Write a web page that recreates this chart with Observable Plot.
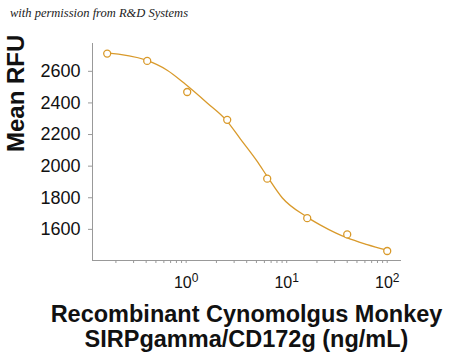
<!DOCTYPE html>
<html>
<head>
<meta charset="utf-8">
<script src="https://cdn.jsdelivr.net/npm/d3@7"></script>
<script src="https://cdn.jsdelivr.net/npm/@observablehq/plot@0.6"></script>
<style>
  html, body { margin: 0; padding: 0; background: #fff; }
  #wrap { position: relative; width: 450px; height: 358px; font-family: "Liberation Sans", Arial, sans-serif; }
  #credit { position: absolute; left: 10px; top: 6px; font-family: "Liberation Serif", serif; font-style: italic; font-size: 12.5px; color: #222; white-space: nowrap; }
  #xtitle { padding-left: 43px; margin-top: 10px; text-align: center; font-weight: bold; font-size: 23.5px; line-height: 25px; color: #111; }
</style>
</head>
<body>
<div id="wrap">
  <div id="chart"></div>
  <div id="xtitle">Recombinant Cynomolgus Monkey<br>SIRPgamma/CD172g (ng/mL)</div>
  <div id="credit">with permission from R&amp;D Systems</div>
</div>
<script>
// Measured points
const conc = [0.16384, 0.4096, 1.024, 2.56, 6.4, 16, 40, 100];
const rfu  = [2712, 2666, 2469, 2293, 1921, 1671, 1568, 1463];
// Fitted curve
const fitConc = [0.16, 0.394, 0.647, 0.984, 1.618, 2.5, 3.47, 5.09, 6.4, 9.02, 15.4, 21.7, 30.6, 40, 63.2, 100];
const fitRfu  = [2717, 2672, 2607, 2518, 2400, 2291, 2171, 2030, 1935, 1800, 1684, 1627, 1578, 1546, 1504, 1468];
// Axis ticks
const yTicks = [1600, 1800, 2000, 2200, 2400, 2600];
const xMajor = [1, 10, 100];
const xMinor = [0.2, 0.3, 0.4, 0.5, 0.6, 0.7, 0.8, 0.9, 2, 3, 4, 5, 6, 7, 8, 9, 20, 30, 40, 50, 60, 70, 80, 90];
const xDomain = [0.117, 138.7];
const yDomain = [1403, 2776];

const points = conc.map((c, i) => ({c, v: rfu[i]}));
const fit = fitConc.map((c, i) => ({c, v: fitRfu[i]}));
const col = "#d99a2b";

const plot = Plot.plot({
  width: 450,
  height: 292,
  marginLeft: 92,
  marginRight: 49,
  marginTop: 43,
  marginBottom: 32,
  style: {fontFamily: "'Liberation Sans', Arial, sans-serif", color: "#111", background: "#fff"},
  x: {type: "log", domain: xDomain},
  y: {domain: yDomain},
  marks: [
    Plot.ruleX([xDomain[0]], {y1: yDomain[0], y2: yDomain[1], stroke: "#999", strokeWidth: 1}),
    Plot.ruleY([yDomain[0]], {x1: xDomain[0], x2: xDomain[1], stroke: "#999", strokeWidth: 1}),
    Plot.axisY({ticks: yTicks, tickSize: 4, tickPadding: 8, fontSize: 18, label: null, stroke: "#999", tickFormat: d => String(d)}),
    Plot.axisX({ticks: xMinor, tickSize: 3, label: null, stroke: "#999", tickFormat: () => ""}),
    Plot.axisX({ticks: xMajor, tickSize: 3, tickPadding: 13, fontSize: 16, label: null, stroke: "#999", tickFormat: d => "E" + Math.round(Math.log10(d))}),
    Plot.line(fit, {x: "c", y: "v", stroke: col, strokeWidth: 1.3, curve: "monotone-x"}),
    Plot.dot(points, {x: "c", y: "v", r: 3.5, stroke: col, strokeWidth: 1.3, fill: "#fff"}),
    Plot.text(["Mean RFU"], {frameAnchor: "left", text: d => d, rotate: -90, dx: -76, fontSize: 24, fontWeight: "bold", fill: "#111"})
  ]
});
document.getElementById("chart").appendChild(plot);

// turn exponent labels into 10 with superscript
d3.select(plot).selectAll("g[aria-label='x-axis tick label'] text").each(function() {
  const s = this.textContent;
  if (!s || s[0] !== "E") return;
  const t = d3.select(this);
  t.text("10");
  t.append("tspan").attr("dy", "-0.45em").attr("font-size", "12px").text(s.slice(1));
});
</script>
</body>
</html>
